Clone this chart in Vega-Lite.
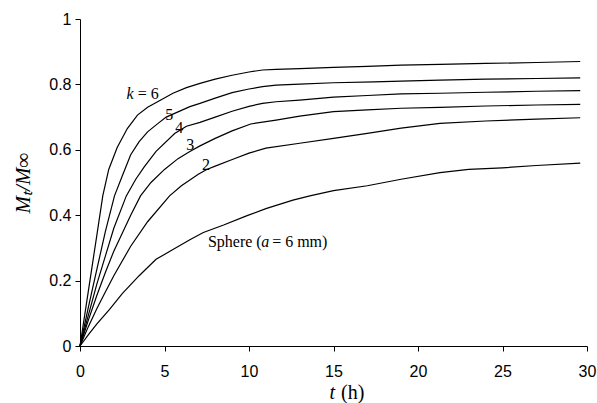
{
  "$schema": "https://vega.github.io/schema/vega-lite/v6.json",
  "width": 507,
  "height": 327,
  "autosize": "none",
  "padding": {"left": 80, "top": 19, "right": 10, "bottom": 57},
  "background": "white",
  "config": {"view": {"stroke": null}},
  "datasets": {
    "curves": [
      {"s":"k6","t":0,"v":0},{"s":"k6","t":0.5,"v":0.17},{"s":"k6","t":1,"v":0.34},{"s":"k6","t":1.35,"v":0.46},{"s":"k6","t":1.7,"v":0.54},{"s":"k6","t":2.2,"v":0.607},{"s":"k6","t":2.8,"v":0.665},{"s":"k6","t":3.4,"v":0.706},{"s":"k6","t":4,"v":0.73},{"s":"k6","t":4.7,"v":0.75},{"s":"k6","t":5.5,"v":0.773},{"s":"k6","t":6.3,"v":0.79},{"s":"k6","t":7.1,"v":0.803},{"s":"k6","t":8,"v":0.816},{"s":"k6","t":9,"v":0.828},{"s":"k6","t":10,"v":0.838},{"s":"k6","t":10.8,"v":0.844},{"s":"k6","t":11.6,"v":0.846},{"s":"k6","t":13,"v":0.848},{"s":"k6","t":15,"v":0.852},{"s":"k6","t":17,"v":0.855},{"s":"k6","t":19,"v":0.859},{"s":"k6","t":21.3,"v":0.861},{"s":"k6","t":24,"v":0.864},{"s":"k6","t":27,"v":0.867},{"s":"k6","t":29.6,"v":0.87},
      {"s":"k5","t":0,"v":0},{"s":"k5","t":0.5,"v":0.12},{"s":"k5","t":1,"v":0.235},{"s":"k5","t":1.5,"v":0.35},{"s":"k5","t":2.04,"v":0.459},{"s":"k5","t":2.5,"v":0.52},{"s":"k5","t":3,"v":0.585},{"s":"k5","t":3.5,"v":0.625},{"s":"k5","t":4,"v":0.655},{"s":"k5","t":4.6,"v":0.68},{"s":"k5","t":5.1,"v":0.7},{"s":"k5","t":5.8,"v":0.716},{"s":"k5","t":6.5,"v":0.732},{"s":"k5","t":7.1,"v":0.742},{"s":"k5","t":8,"v":0.758},{"s":"k5","t":9,"v":0.775},{"s":"k5","t":10,"v":0.786},{"s":"k5","t":10.8,"v":0.793},{"s":"k5","t":11.6,"v":0.798},{"s":"k5","t":13,"v":0.801},{"s":"k5","t":15,"v":0.805},{"s":"k5","t":17.4,"v":0.808},{"s":"k5","t":19,"v":0.81},{"s":"k5","t":21.3,"v":0.813},{"s":"k5","t":24,"v":0.816},{"s":"k5","t":27,"v":0.818},{"s":"k5","t":29.6,"v":0.82},
      {"s":"k4","t":0,"v":0},{"s":"k4","t":0.5,"v":0.095},{"s":"k4","t":1,"v":0.19},{"s":"k4","t":1.5,"v":0.275},{"s":"k4","t":2,"v":0.36},{"s":"k4","t":2.74,"v":0.459},{"s":"k4","t":3.3,"v":0.51},{"s":"k4","t":3.8,"v":0.548},{"s":"k4","t":4.5,"v":0.595},{"s":"k4","t":5.6,"v":0.65},{"s":"k4","t":6.3,"v":0.672},{"s":"k4","t":7.1,"v":0.684},{"s":"k4","t":8,"v":0.7},{"s":"k4","t":9,"v":0.718},{"s":"k4","t":10,"v":0.733},{"s":"k4","t":10.8,"v":0.742},{"s":"k4","t":11.6,"v":0.747},{"s":"k4","t":13,"v":0.752},{"s":"k4","t":15,"v":0.761},{"s":"k4","t":17,"v":0.766},{"s":"k4","t":19,"v":0.771},{"s":"k4","t":21.3,"v":0.773},{"s":"k4","t":24,"v":0.776},{"s":"k4","t":27,"v":0.779},{"s":"k4","t":29.6,"v":0.781},
      {"s":"k3","t":0,"v":0},{"s":"k3","t":0.5,"v":0.08},{"s":"k3","t":1,"v":0.155},{"s":"k3","t":1.5,"v":0.225},{"s":"k3","t":2,"v":0.29},{"s":"k3","t":2.5,"v":0.345},{"s":"k3","t":3,"v":0.4},{"s":"k3","t":3.58,"v":0.459},{"s":"k3","t":4.2,"v":0.5},{"s":"k3","t":5,"v":0.54},{"s":"k3","t":5.8,"v":0.573},{"s":"k3","t":6.5,"v":0.595},{"s":"k3","t":7.1,"v":0.612},{"s":"k3","t":8,"v":0.635},{"s":"k3","t":9,"v":0.658},{"s":"k3","t":10.1,"v":0.679},{"s":"k3","t":11.6,"v":0.691},{"s":"k3","t":13,"v":0.703},{"s":"k3","t":15,"v":0.717},{"s":"k3","t":17,"v":0.722},{"s":"k3","t":19,"v":0.727},{"s":"k3","t":21.3,"v":0.73},{"s":"k3","t":24,"v":0.734},{"s":"k3","t":27,"v":0.737},{"s":"k3","t":29.6,"v":0.739},
      {"s":"k2","t":0,"v":0},{"s":"k2","t":0.5,"v":0.06},{"s":"k2","t":1,"v":0.115},{"s":"k2","t":1.5,"v":0.165},{"s":"k2","t":2,"v":0.215},{"s":"k2","t":3,"v":0.305},{"s":"k2","t":4,"v":0.38},{"s":"k2","t":5.3,"v":0.459},{"s":"k2","t":6,"v":0.49},{"s":"k2","t":7,"v":0.525},{"s":"k2","t":7.5,"v":0.54},{"s":"k2","t":8,"v":0.55},{"s":"k2","t":9.05,"v":0.571},{"s":"k2","t":10,"v":0.59},{"s":"k2","t":11,"v":0.605},{"s":"k2","t":13,"v":0.62},{"s":"k2","t":15,"v":0.635},{"s":"k2","t":17,"v":0.65},{"s":"k2","t":19,"v":0.666},{"s":"k2","t":21.3,"v":0.681},{"s":"k2","t":24,"v":0.688},{"s":"k2","t":27,"v":0.694},{"s":"k2","t":29.6,"v":0.698},
      {"s":"sphere","t":0,"v":0},{"s":"sphere","t":0.5,"v":0.035},{"s":"sphere","t":1,"v":0.068},{"s":"sphere","t":1.75,"v":0.112},{"s":"sphere","t":2.5,"v":0.16},{"s":"sphere","t":3.5,"v":0.215},{"s":"sphere","t":4.5,"v":0.265},{"s":"sphere","t":5.5,"v":0.295},{"s":"sphere","t":6.5,"v":0.325},{"s":"sphere","t":7.3,"v":0.347},{"s":"sphere","t":8.5,"v":0.37},{"s":"sphere","t":9.85,"v":0.398},{"s":"sphere","t":11,"v":0.42},{"s":"sphere","t":12.6,"v":0.446},{"s":"sphere","t":13.6,"v":0.459},{"s":"sphere","t":15,"v":0.475},{"s":"sphere","t":17,"v":0.49},{"s":"sphere","t":19,"v":0.51},{"s":"sphere","t":21.3,"v":0.53},{"s":"sphere","t":23,"v":0.54},{"s":"sphere","t":25,"v":0.545},{"s":"sphere","t":27,"v":0.552},{"s":"sphere","t":29.6,"v":0.559}
    ],
    "labelsLeft": [
      {"t":3.41,"v":0.77,"text":"= 6"},
      {"t":7.57,"v":0.319,"text":"Sphere ("},
      {"t":11.37,"v":0.319,"text":"= 6 mm)"}
    ],
    "labelsCenter": [
      {"t":5.28,"v":0.706,"text":"5"},
      {"t":5.88,"v":0.666,"text":"4"},
      {"t":6.53,"v":0.615,"text":"3"},
      {"t":7.45,"v":0.554,"text":"2"}
    ],
    "labelsItalic": [
      {"t":2.96,"v":0.77,"text":"k"},
      {"t":10.96,"v":0.319,"text":"a"}
    ],
    "titleItalic": [
      {"t":14.93,"v":-0.144,"text":"t"}
    ],
    "titleNormal": [
      {"t":15.45,"v":-0.144,"text":"(h)"}
    ]
  },
  "layer": [
    {
      "data": {"name": "curves"},
      "mark": {"type": "line", "color": "black", "strokeWidth": 1.2},
      "encoding": {
        "x": {"field": "t", "type": "quantitative", "scale": {"domain": [0, 30], "nice": false},
          "axis": {"values": [0,5,10,15,20,25,30], "title": null, "grid": false, "domainColor": "black", "tickColor": "black", "tickSize": 5, "labelPadding": 12, "labelFont": "Liberation Sans", "labelFontSize": 16, "labelColor": "black", "labelFlush": false}},
        "y": {"field": "v", "type": "quantitative", "scale": {"domain": [0, 1], "nice": false},
          "axis": {"values": [0,0.2,0.4,0.6,0.8,1], "labelExpr": "format(datum.value, '~g')", "title": "Mₜ/M∞", "titleFont": "Liberation Serif", "titleFontStyle": "italic", "titleFontWeight": "normal", "titleFontSize": 21, "titleColor": "black", "titlePadding": 15, "grid": false, "domainColor": "black", "tickColor": "black", "tickSize": 5, "labelPadding": 4, "labelFont": "Liberation Sans", "labelFontSize": 16, "labelColor": "black", "labelFlush": false}},
        "detail": {"field": "s"},
        "order": {"field": "t", "type": "quantitative"}
      }
    },
    {
      "data": {"name": "labelsLeft"},
      "mark": {"type": "text", "font": "Liberation Serif", "fontSize": 16, "align": "left", "baseline": "middle", "color": "black"},
      "encoding": {"x": {"field": "t", "type": "quantitative"}, "y": {"field": "v", "type": "quantitative"}, "text": {"field": "text"}}
    },
    {
      "data": {"name": "labelsCenter"},
      "mark": {"type": "text", "font": "Liberation Serif", "fontSize": 16, "align": "center", "baseline": "middle", "color": "black"},
      "encoding": {"x": {"field": "t", "type": "quantitative"}, "y": {"field": "v", "type": "quantitative"}, "text": {"field": "text"}}
    },
    {
      "data": {"name": "labelsItalic"},
      "mark": {"type": "text", "font": "Liberation Serif", "fontStyle": "italic", "fontSize": 16, "align": "center", "baseline": "middle", "color": "black"},
      "encoding": {"x": {"field": "t", "type": "quantitative"}, "y": {"field": "v", "type": "quantitative"}, "text": {"field": "text"}}
    },
    {
      "data": {"name": "titleItalic"},
      "mark": {"type": "text", "font": "Liberation Serif", "fontStyle": "italic", "fontSize": 20, "align": "center", "baseline": "middle", "color": "black"},
      "encoding": {"x": {"field": "t", "type": "quantitative"}, "y": {"field": "v", "type": "quantitative"}, "text": {"field": "text"}}
    },
    {
      "data": {"name": "titleNormal"},
      "mark": {"type": "text", "font": "Liberation Serif", "fontSize": 20, "align": "left", "baseline": "middle", "color": "black"},
      "encoding": {"x": {"field": "t", "type": "quantitative"}, "y": {"field": "v", "type": "quantitative"}, "text": {"field": "text"}}
    }
  ]
}
